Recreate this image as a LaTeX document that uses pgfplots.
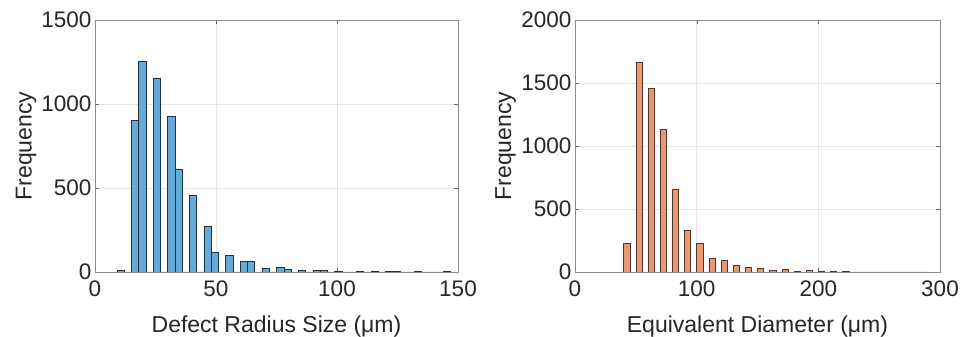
\documentclass[border=0pt]{standalone}
\usepackage{fontspec}
\setmainfont{Liberation Sans}
\usepackage{pgfplots}
\usepackage{pgfplotstable}
\pgfplotsset{compat=1.18}
\definecolor{mblue}{RGB}{102,170,215}
\definecolor{morange}{RGB}{232,152,117}
\definecolor{axgray}{RGB}{38,38,38}
\pgfplotstableread{
x y
9 10
12 0
15 904
18 1256
21 0
24 1156
27 0
30 928
33 614
36 0
39 456
42 0
45 270
48 117
51 0
54 99
57 0
60 64
63 64
66 0
69 25
72 0
75 30
78 19
81 0
84 10
87 0
90 10
93 10
96 0
99 6
102 0
105 0
108 4
111 0
114 4
117 0
120 4
123 4
126 0
129 0
132 2
135 0
138 0
141 0
144 2
147 0
}\radius
\pgfplotstableread{
x y
40 230
45 0
50 1664
55 0
60 1459
65 0
70 1131
75 0
80 656
85 0
90 328
95 0
100 230
105 0
110 107
115 0
120 92
125 0
130 52
135 0
140 35
145 0
150 27
155 0
160 13
165 0
170 21
175 0
180 5
185 0
190 11
195 0
200 8
205 0
210 3
215 0
220 2
225 0
230 1
235 0
240 1
245 0
250 1
255 0
260 1
265 0
270 1
275 0
280 1
285 0
290 0
}\diam
\begin{document}
\begin{tikzpicture}
\useasboundingbox (0,0) rectangle (969pt,337pt);
\pgfplotsset{mystyle/.style={
  scale only axis, height=252pt, anchor=south west,
  axis line style={draw=black!45},
  tick style={draw=black!60},
  tick label style={font=\fontsize{22.5}{22.5}\selectfont, text=axgray},
  xticklabel style={yshift=-5pt},
  label style={font=\fontsize{23}{23}\selectfont, text=axgray},
  grid=major, grid style={black!10, line width=0.5pt},
  tick align=inside, major tick length=4pt,
  /pgf/number format/assume math mode=true,
  /pgf/number format/1000 sep={},
  scaled ticks=false,
  ymin=0,
  ylabel style={at={(axis description cs:-0.19,0.5)}, anchor=center},
  xlabel style={at={(axis description cs:0.5,-0.215)}, anchor=center},
  ylabel={Frequency},
}}
\begin{axis}[mystyle, at={(95pt,65pt)}, width=363pt,
  xmin=0, xmax=150, ymax=1500,
  xtick={0,50,100,150}, ytick={0,500,1000,1500},
  xlabel={Defect Radius Size (μm)}]
\addplot[ybar interval, fill=mblue, draw=black!70!mblue, line width=0.5pt] table[x=x,y=y] {\radius};
\end{axis}
\begin{axis}[mystyle, at={(575pt,65pt)}, width=365pt,
  xmin=0, xmax=300, ymax=2000,
  xtick={0,100,200,300}, ytick={0,500,1000,1500,2000},
  xlabel={Equivalent Diameter (μm)}]
\addplot[ybar interval, fill=morange, draw=black!65!morange, line width=0.5pt] table[x=x,y=y] {\diam};
\end{axis}
\end{tikzpicture}
\end{document}
